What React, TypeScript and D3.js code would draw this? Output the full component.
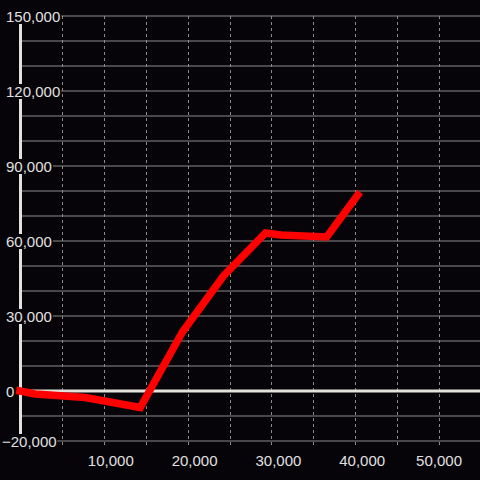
import React from "react";
import * as d3 from "d3";

const xValues = [0, 1800, 7800, 14350, 19380, 24280, 29300, 31100, 36600, 40300];
const yValues = [0, -1200, -2600, -6600, 23600, 46000, 63200, 62400, 61600, 78400];
const xTickLabels = [10000, 20000, 30000, 40000, 50000];
const yTickLabels = [150000, 120000, 90000, 60000, 30000, 0, -20000];

const W = 480;
const H = 480;

export default function App() {
  const x = d3.scaleLinear().domain([0, 50000]).range([20, 439]);
  const y = d3.scaleLinear().domain([-20000, 150000]).range([441, 16]);
  const fmt = d3.format(",");
  const hGrid = d3.range(-20000, 150001, 10000);
  const vGrid = d3.range(5000, 50001, 5000);
  const pts: [number, number][] = xValues.map((v, i) => [v, yValues[i]]);
  const line = d3
    .line<[number, number]>()
    .x((d) => x(d[0]))
    .y((d) => y(d[1]));
  const font = "'Liberation Sans', Arial, sans-serif";
  const fs = 15;
  const charW = (s: string) =>
    s.split("").reduce((a, c) => a + (c === "," ? 0.278 : c === "-" ? 0.333 : 0.556) * fs, 0);

  return (
    <svg
      width={W}
      height={H}
      style={{ position: "fixed", left: 0, top: 0, background: "#060408" }}
    >
      <rect x={0} y={0} width={W} height={H} fill="#060408" />
      {hGrid.map((v) => (
        <line key={"h" + v} x1={20} x2={W} y1={y(v)} y2={y(v)} stroke="#8a8a8a" strokeWidth={1} />
      ))}
      {vGrid.map((v) => (
        <line
          key={"v" + v}
          x1={Math.round(x(v)) + 0.5}
          x2={Math.round(x(v)) + 0.5}
          y1={16}
          y2={448}
          stroke="#8a8a8a"
          strokeWidth={1}
          strokeDasharray="3,3"
        />
      ))}
      <line x1={20} x2={W} y1={y(0)} y2={y(0)} stroke="#e2e2dc" strokeWidth={3} />
      <line x1={20.5} x2={20.5} y1={16} y2={441} stroke="#e2e2dc" strokeWidth={3} />
      {yTickLabels.map((v) => {
        const s = fmt(v);
        const w = charW(s);
        const tx = v < 0 ? 6 - 0.333 * fs + 1 : 6;
        return (
          <g key={"yl" + v}>
            <rect x={tx - 1} y={y(v) - 7} width={w + 2} height={15} fill="#060408" />
            <text
              x={tx}
              y={y(v) + 6.2}
              fill="#e0e0e0"
              fontSize={fs}
              fontFamily={font}
            >
              {s}
            </text>
          </g>
        );
      })}
      {xTickLabels.map((v) => {
        const s = fmt(v);
        const w = charW(s);
        const cx = Math.min(x(v) + 7, 462 - w / 2);
        return (
          <text
            key={"xl" + v}
            x={cx}
            y={466}
            fill="#e0e0e0"
            fontSize={fs}
            fontFamily={font}
            textAnchor="middle"
          >
            {s}
          </text>
        );
      })}
      <path
        d={line(pts) || ""}
        fill="none"
        stroke="#ff0000"
        strokeWidth={7.5}
        strokeLinejoin="miter"
        strokeLinecap="square"
      />
    </svg>
  );
}
